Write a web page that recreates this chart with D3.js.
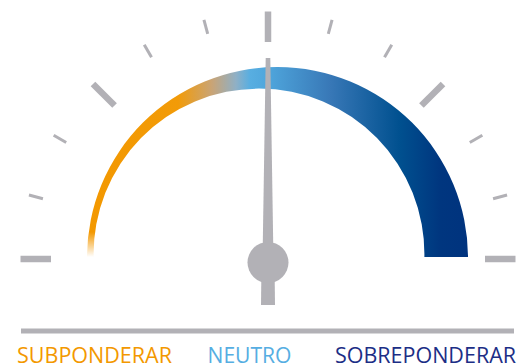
<!DOCTYPE html>
<html>
<head>
<meta charset="utf-8">
<script src="https://cdn.jsdelivr.net/npm/d3@7"></script>
<style>
  html, body { margin: 0; padding: 0; background: #fff; }
  svg { display: block; }
</style>
</head>
<body>
<script>
// scale from -6 (subponderar) to +6 (sobreponderar), 0 = neutro
const tickValues = [-6, -5, -4, -3, -2, -1, 0, 1, 2, 3, 4, 5, 6];
const majorTicks = [-6, -3, 0, 3, 6];
const needleValue = 0;
const labels = ['SUBPONDERAR', 'NEUTRO', 'SOBREPONDERAR'];

const box = { width: 518, height: 364 };
const gray = '#b2b1b6';
const labelColors = ['#f39800', '#56aee2', '#1c2e86'];

const center = { x: 268, y: 259 };
const pivot = { x: 268, y: 262.5 };
const outer = { x: 277.5, y: 257.5, r: 190.5 };
const inner = { x: 259, y: 254, r: 165.4 };
const bandBottom = 257;

const svg = d3.select('body')
  .append('svg')
  .attr('width', box.width)
  .attr('height', box.height);

const angle = d3.scaleLinear().domain([-6, 6]).range([-90, 90]);

const defs = svg.append('defs');

const grad = defs.append('linearGradient')
  .attr('id', 'band')
  .attr('gradientUnits', 'userSpaceOnUse')
  .attr('x1', 87).attr('x2', 468).attr('y1', 0).attr('y2', 0);
[
  [87, '#f39800'], [178, '#f29b08'], [212, '#c9a476'], [236, '#8fb0c6'],
  [250, '#58aee1'], [268, '#4fa6dc'], [330, '#3878b7'], [400, '#00508f'],
  [440, '#00367f'], [468, '#00337e']
].forEach(([x, c]) => {
  grad.append('stop').attr('offset', (x - 87) / (468 - 87)).attr('stop-color', c);
});

const fade = defs.append('linearGradient')
  .attr('id', 'fade')
  .attr('gradientUnits', 'userSpaceOnUse')
  .attr('x1', 0).attr('x2', 0).attr('y1', 232).attr('y2', 257);
fade.append('stop').attr('offset', 0).attr('stop-color', '#fff');
fade.append('stop').attr('offset', 1).attr('stop-color', '#000');

const mask = defs.append('mask').attr('id', 'bandMask')
  .attr('maskUnits', 'userSpaceOnUse')
  .attr('x', 0).attr('y', 0).attr('width', box.width).attr('height', box.height);
mask.append('rect').attr('width', box.width).attr('height', box.height).attr('fill', '#fff');
mask.append('rect').attr('x', 0).attr('y', 200).attr('width', 180).attr('height', 70).attr('fill', 'url(#fade)');

// tapered band: outer circle and inner circle with different centres
const oEnd = Math.asin((bandBottom - outer.y) / outer.r);
const iEnd = Math.asin((bandBottom - inner.y) / inner.r);
const p = d3.path();
p.arc(outer.x, outer.y, outer.r, Math.PI - oEnd, 2 * Math.PI + oEnd, false);
p.lineTo(inner.x + inner.r * Math.cos(iEnd), bandBottom);
p.arc(inner.x, inner.y, inner.r, iEnd, Math.PI - iEnd - 2 * Math.PI, true);
p.closePath();

svg.append('path')
  .attr('d', p.toString())
  .attr('fill', 'url(#band)')
  .attr('mask', 'url(#bandMask)');

// ticks
svg.append('g')
  .attr('transform', `translate(${center.x},${center.y})`)
  .selectAll('line')
  .data(tickValues)
  .join('line')
  .attr('transform', d => `rotate(${angle(d)})`)
  .attr('x1', 0).attr('x2', 0)
  .attr('y1', d => majorTicks.includes(d) ? -217 : -233)
  .attr('y2', -247.5)
  .attr('stroke', gray)
  .attr('stroke-width', d => majorTicks.includes(d) ? 6.5 : 3);

// needle
const needle = svg.append('g')
  .attr('transform', `translate(${pivot.x},${pivot.y}) rotate(${angle(needleValue)})`);
needle.append('path')
  .attr('d', d3.line()([[-2.3, -204.5], [2.3, -204.5], [5.5, 0], [-5.5, 0]]))
  .attr('fill', gray);
needle.append('path')
  .attr('d', d3.line()([[-6.5, 0], [6.5, 0], [7, 42.5], [-7, 42.5]]))
  .attr('fill', gray);
needle.append('circle')
  .attr('r', 20.5)
  .attr('fill', gray);

// baseline
svg.append('line')
  .attr('x1', 21).attr('x2', 514)
  .attr('y1', 331).attr('y2', 331)
  .attr('stroke', gray)
  .attr('stroke-width', 5);

// labels
const labelPos = [
  { x: 17, anchor: 'start', w: 155 },
  { x: 249.5, anchor: 'middle', w: 84 },
  { x: 516, anchor: 'end', w: 181 }
];
svg.selectAll('text.label')
  .data(labels)
  .join('text')
  .attr('class', 'label')
  .attr('x', (d, i) => labelPos[i].x)
  .attr('y', 362.5)
  .attr('text-anchor', (d, i) => labelPos[i].anchor)
  .attr('textLength', (d, i) => labelPos[i].w)
  .attr('lengthAdjust', 'spacingAndGlyphs')
  .style('font-family', '"Open Sans", sans-serif')
  .style('font-size', '21px')
  .style('fill', (d, i) => labelColors[i])
  .text(d => d);
</script>
</body>
</html>
